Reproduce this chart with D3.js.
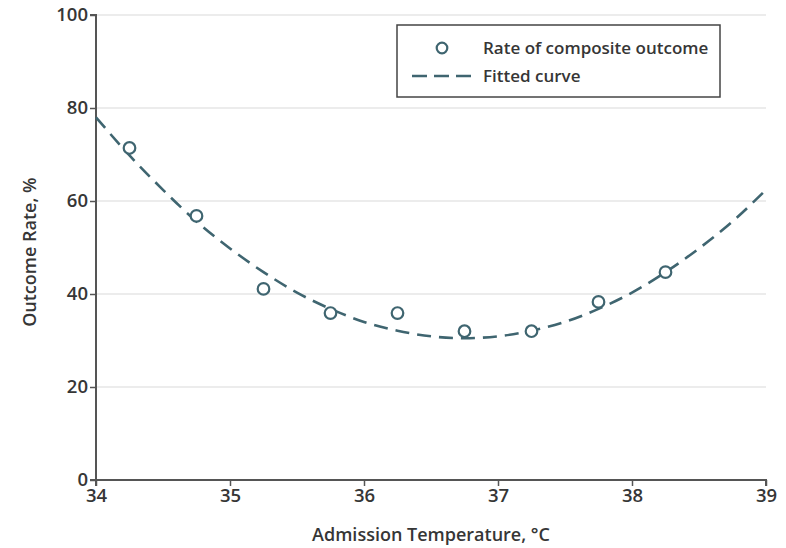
<!DOCTYPE html>
<html>
<head>
<meta charset="utf-8">
<script src="https://cdn.jsdelivr.net/npm/d3@7"></script>
<style>
  body { margin: 0; background: #fff; }
  svg text { font-family: "Open Sans", "DejaVu Sans", sans-serif; font-weight: 600; fill: #363636; }
</style>
</head>
<body>
<script>
// observed rates (points sit at the quarter-degree marks)
const temps = [34.25, 34.75, 35.25, 35.75, 36.25, 36.75, 37.25, 37.75, 38.25];
const rates = [71.4, 56.8, 41.1, 35.9, 35.9, 32.0, 32.0, 38.3, 44.7];
// fitted curve
const fitX = [34, 34.25, 34.5, 34.75, 35, 35.25, 35.5, 35.75, 36, 36.25, 36.5, 36.75, 37, 37.25, 37.5, 37.75, 38, 38.25, 38.5, 38.75, 39];
const fitY = [78.0, 69.8, 62.4, 55.6, 49.8, 44.7, 40.3, 36.8, 34.0, 32.1, 30.9, 30.5, 30.9, 32.1, 34.0, 36.8, 40.3, 44.7, 49.8, 55.6, 62.4];
const xTicks = [34, 35, 36, 37, 38, 39];
const yTicks = [0, 20, 40, 60, 80, 100];
const legendLabels = ["Rate of composite outcome", "Fitted curve"];

const width = 786, height = 548;
const margin = {top: 15, right: 20, bottom: 68, left: 96};
const lineColor = "#3f6570";

const svg = d3.select("body").append("svg")
  .attr("width", width)
  .attr("height", height);

const xScale = d3.scaleLinear().domain([34, 39]).range([margin.left, width - margin.right]);
const yScale = d3.scaleLinear().domain([0, 100]).range([height - margin.bottom, margin.top]);

// gridlines
svg.append("g").selectAll("line")
  .data(yTicks.filter(d => d > 0))
  .join("line")
  .attr("x1", xScale(34)).attr("x2", xScale(39))
  .attr("y1", d => yScale(d)).attr("y2", d => yScale(d))
  .attr("stroke", "#ececec")
  .attr("stroke-width", 2);

// axes
const xAxis = d3.axisBottom(xScale).tickValues(xTicks).tickFormat(d3.format("d")).tickSize(6).tickPadding(3);
const yAxis = d3.axisLeft(yScale).tickValues(yTicks).tickSize(6).tickPadding(2);

const gx = svg.append("g")
  .attr("transform", "translate(0," + yScale(0) + ")")
  .call(xAxis);
const gy = svg.append("g")
  .attr("transform", "translate(" + xScale(34) + ",0)")
  .call(yAxis);

[gx, gy].forEach(g => {
  g.select(".domain").attr("stroke", "#555").attr("stroke-width", 2);
  g.selectAll(".tick line").attr("stroke", "#555").attr("stroke-width", 1.5);
  g.selectAll(".tick text").style("font-size", "18.5px").attr("fill", "#363636");
});
gx.select(".domain").attr("d", "M" + xScale(34) + ",6V0H" + xScale(39) + "V6");
gy.select(".domain").attr("d", "M-6," + yScale(100) + "H0V" + yScale(0) + "H-6");

// axis titles
svg.append("text")
  .attr("x", (xScale(34) + xScale(39)) / 2)
  .attr("y", 541)
  .attr("text-anchor", "middle")
  .style("font-size", "18px")
  .text("Admission Temperature, °C");

svg.append("text")
  .attr("transform", "translate(36," + (yScale(49)) + ") rotate(-90)")
  .attr("text-anchor", "middle")
  .style("font-size", "18px")
  .text("Outcome Rate, %");

// fitted curve
const line = d3.line()
  .curve(d3.curveMonotoneX)
  .x((d, i) => xScale(fitX[i]))
  .y(d => yScale(d));

svg.append("path")
  .attr("d", line(fitY))
  .attr("fill", "none")
  .attr("stroke", lineColor)
  .attr("stroke-width", 2.6)
  .attr("stroke-dasharray", "14,8");

// observed points
svg.append("g").selectAll("circle")
  .data(rates)
  .join("circle")
  .attr("cx", (d, i) => xScale(temps[i]))
  .attr("cy", d => yScale(d))
  .attr("r", 5.8)
  .attr("fill", "#fff")
  .attr("stroke", lineColor)
  .attr("stroke-width", 2.2);

// legend
const legend = svg.append("g");
legend.append("rect")
  .attr("x", 397).attr("y", 25)
  .attr("width", 323).attr("height", 72)
  .attr("fill", "#fff")
  .attr("stroke", "#444")
  .attr("stroke-width", 1.5);
legend.append("circle")
  .attr("cx", 442).attr("cy", 48)
  .attr("r", 5.3)
  .attr("fill", "#fff")
  .attr("stroke", lineColor)
  .attr("stroke-width", 2.2);
legend.append("line")
  .attr("x1", 412).attr("x2", 472)
  .attr("y1", 76).attr("y2", 76)
  .attr("stroke", lineColor)
  .attr("stroke-width", 2.6)
  .attr("stroke-dasharray", "15,7");
legend.selectAll("text.lab")
  .data(legendLabels)
  .join("text")
  .attr("class", "lab")
  .attr("x", 483)
  .attr("y", (d, i) => 48 + i * 28)
  .attr("dy", "0.35em")
  .style("font-size", "17px")
  .text(d => d);
</script>
</body>
</html>
